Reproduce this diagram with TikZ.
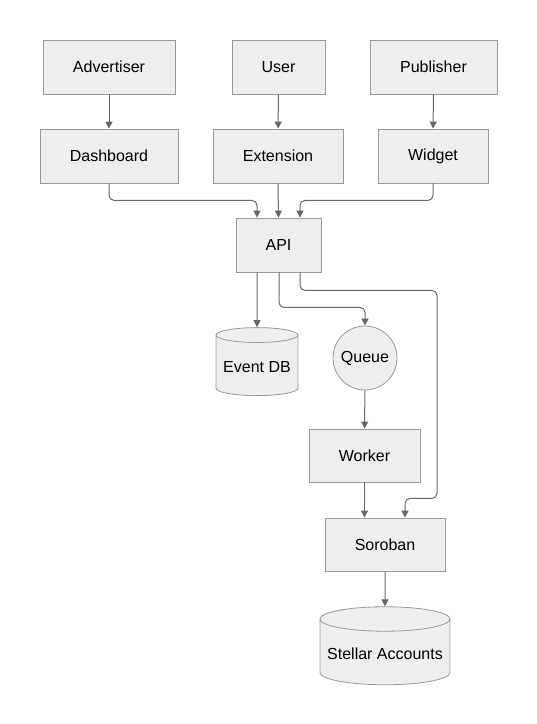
\documentclass[tikz,border=0pt]{standalone}
\usepackage{fontspec}
\setmainfont{Liberation Sans}
\usetikzlibrary{arrows.meta,shapes.geometric}
\definecolor{boxfill}{HTML}{EEEEEE}
\definecolor{boxline}{HTML}{999999}
\definecolor{arrowline}{HTML}{666666}
\tikzset{
  box/.style={draw=boxline, fill=boxfill, line width=0.8pt, minimum height=54pt, font=\fontsize{16}{19}\selectfont},
  dbase/.style={cylinder, shape border rotate=90, draw=boxline, fill=boxfill, line width=0.8pt, aspect=0.2, font=\fontsize{16}{19}\selectfont},
  link/.style={draw=arrowline, line width=1pt, rounded corners=5pt, -{Triangle[width=7pt,length=7pt]}}
}
\begin{document}
\begin{tikzpicture}[x=1pt,y=-1pt]
\useasboundingbox (0,0) rectangle (537,724);
\node[box, minimum width=132pt] (adv) at (109,67) {Advertiser};
\node[box, minimum width=93pt] (usr) at (278.5,67) {User};
\node[box, minimum width=127pt] (pub) at (433.5,67) {Publisher};
\node[box, minimum width=138pt] (dash) at (109,156) {Dashboard};
\node[box, minimum width=130pt] (ext) at (278,156) {Extension};
\node[box, minimum width=110pt] (wid) at (433,156) {Widget};
\node[box, minimum width=85pt] (api) at (278.5,245) {API};
\node[dbase, minimum width=82pt, minimum height=68pt] (edb) at (257,367) {Event DB};
\node[circle, draw=boxline, fill=boxfill, line width=0.8pt, minimum size=64pt, inner sep=0pt, font=\fontsize{16}{19}\selectfont] (que) at (365,358) {Queue};
\node[box, minimum width=111pt, minimum height=53pt] (wrk) at (364.5,455.5) {Worker};
\node[box, minimum width=120pt, minimum height=53pt] (sor) at (385,544.5) {Soroban};
\node[dbase, minimum width=130pt, minimum height=78pt] (acc) at (385,654) {Stellar Accounts};
\draw[link] (adv) -- (dash);
\draw[link] (usr) -- (ext);
\draw[link] (pub) -- (wid);
\draw[link] (dash.south) -- ++(0,17) -| ([xshift=-21.5]api.north);
\draw[link] (ext.south) -- (api.north);
\draw[link] (wid.south) -- ++(0,17) -| ([xshift=21.5]api.north);
\draw[link] ([xshift=-21.5]api.south) -- (edb.north);
\draw[link] ([xshift=0.5]api.south) -- ++(0,35) -| (que.north);
\draw[link] ([xshift=21.5]api.south) -- ++(0,18) -- ++(137,0) -- ++(0,208) -| ([xshift=20]sor.north);
\draw[link] (que) -- (wrk);
\draw[link] (wrk.south) -- (wrk.south |- sor.north);
\draw[link] (sor) -- (acc);
\end{tikzpicture}
\end{document}
